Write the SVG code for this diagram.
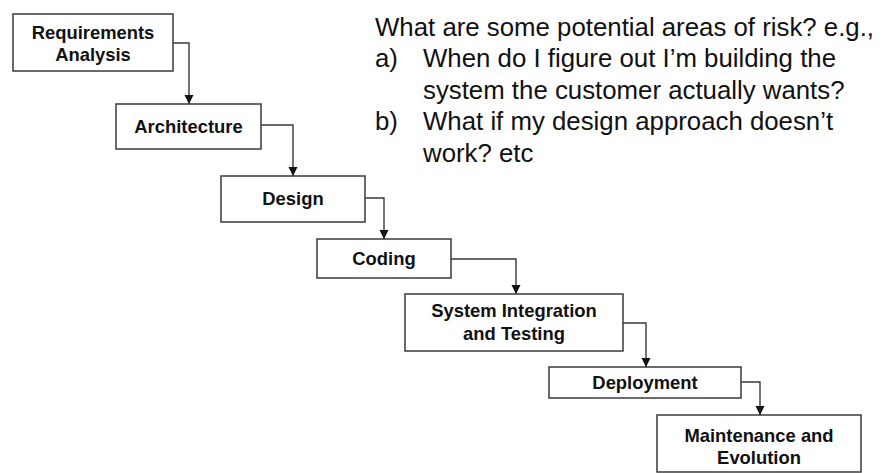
<svg xmlns="http://www.w3.org/2000/svg" width="893" height="473" viewBox="0 0 893 473">
  <style>
    .box { fill: #ffffff; stroke: #3a3a3a; stroke-width: 1.5; }
    .label { font-family: "Liberation Sans", Arial, Helvetica, sans-serif; font-weight: bold; font-size: 18.4px; fill: #111111; text-anchor: middle; }
    .flow { fill: none; stroke: #3a3a3a; stroke-width: 1.4; marker-end: url(#arrow); }
    .note { font-family: "Liberation Sans", Arial, Helvetica, sans-serif; font-size: 25.8px; fill: #111111; }
  </style>
  <defs>
    <marker id="arrow" markerUnits="userSpaceOnUse" markerWidth="11" markerHeight="10" refX="9" refY="5" orient="auto">
      <path d="M0,0.5 L9,5 L0,9.5 Z" fill="#111111"/>
    </marker>
  </defs>
  <rect width="893" height="473" fill="#ffffff"/>

  <!-- waterfall stages -->
  <g id="requirements-analysis">
    <rect class="box" x="13" y="14" width="160" height="57"/>
    <text class="label" x="93" y="39">Requirements</text>
    <text class="label" x="93" y="61">Analysis</text>
  </g>
  <g id="architecture">
    <rect class="box" x="116" y="104" width="145" height="45"/>
    <text class="label" x="188.5" y="133">Architecture</text>
  </g>
  <g id="design">
    <rect class="box" x="221" y="176" width="144" height="46"/>
    <text class="label" x="293" y="205">Design</text>
  </g>
  <g id="coding">
    <rect class="box" x="317" y="239" width="134" height="39"/>
    <text class="label" x="384" y="265">Coding</text>
  </g>
  <g id="system-integration">
    <rect class="box" x="405" y="294" width="218" height="57"/>
    <text class="label" x="514" y="317">System Integration</text>
    <text class="label" x="514" y="340">and Testing</text>
  </g>
  <g id="deployment">
    <rect class="box" x="549" y="367" width="192" height="31"/>
    <text class="label" x="645" y="389">Deployment</text>
  </g>
  <g id="maintenance">
    <rect class="box" x="657" y="415" width="204" height="57"/>
    <text class="label" x="759" y="442">Maintenance and</text>
    <text class="label" x="759" y="464">Evolution</text>
  </g>

  <!-- step connectors -->
  <g id="connectors">
    <path class="flow" d="M173,43 H189 V104"/>
    <path class="flow" d="M261,125 H293 V176"/>
    <path class="flow" d="M365,198 H384 V239"/>
    <path class="flow" d="M451,259 H516 V294"/>
    <path class="flow" d="M623,323 H646 V367"/>
    <path class="flow" d="M741,382 H760 V415"/>
  </g>

  <!-- risk questions -->
  <g id="notes">
    <text class="note" x="375" y="36">What are some potential areas of risk? e.g.,</text>
    <text class="note" x="375" y="67">a)</text>
    <text class="note" x="423" y="67">When do I figure out I’m building the</text>
    <text class="note" x="423" y="99">system the customer actually wants?</text>
    <text class="note" x="375" y="130">b)</text>
    <text class="note" x="423" y="130">What if my design approach doesn’t</text>
    <text class="note" x="423" y="162">work? etc</text>
  </g>
</svg>
